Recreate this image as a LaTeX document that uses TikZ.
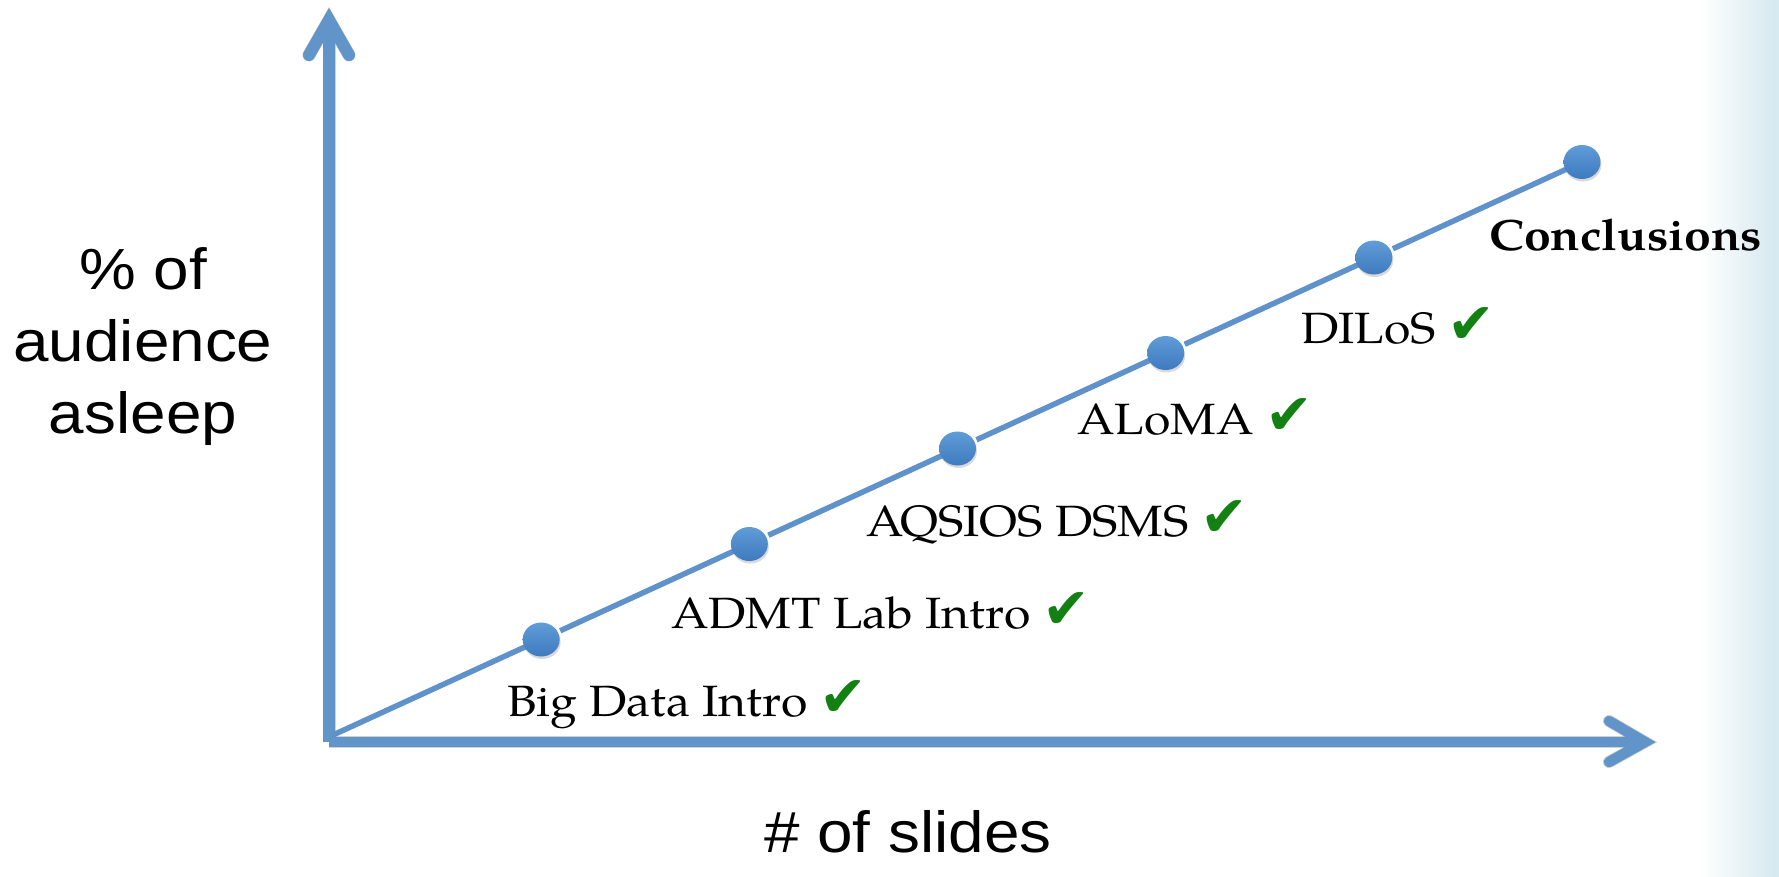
\documentclass[tikz,border=0pt]{standalone}
\usepackage{fontspec}
\usetikzlibrary{calc,shapes.geometric,shadows}
\newfontfamily\labelfont[FakeStretch=1.1]{TeX Gyre Pagella}
\newfontfamily\axisfont[FakeStretch=1.1]{Liberation Sans}
\newfontfamily\symfont{DejaVu Sans}
\definecolor{axisblue}{RGB}{97,149,201}
\definecolor{trendblue}{RGB}{95,146,202}
\definecolor{dottop}{RGB}{96,156,216}
\definecolor{dotbot}{RGB}{62,122,190}
\definecolor{okgreen}{RGB}{18,128,18}
\definecolor{bandblue}{RGB}{212,232,239}
\newcommand\okmark{{\symfont\fontsize{57}{60}\selectfont\color{okgreen}✔}}
\begin{document}
\begin{tikzpicture}[x=1pt,y=-1pt,
  axisline/.style={draw=axisblue},
  axisshadow/.style={draw=black, opacity=0.18},
  trend/.style={draw=trendblue, line width=5.5},
  dot/.style={ellipse, minimum width=37pt, minimum height=34pt, inner sep=0pt,
    top color=dottop, bottom color=dotbot,
    drop shadow={shadow xshift=1pt, shadow yshift=-2.5pt, opacity=0.3}},
  lbl/.style={anchor=base west, inner sep=0pt, font={\labelfont\fontsize{43.8}{50}\selectfont}},
  axlbl/.style={inner sep=0pt, font={\axisfont\fontsize{58}{72}\selectfont}}]
\useasboundingbox (0,0) rectangle (1779,876);

% pale band along the right edge
\shade[left color=white, right color=bandblue] (1700,0) rectangle (1779,876);

% axis end points
\coordinate (ybot) at (329,742);
\coordinate (ytip) at (329,20);
\coordinate (xleft) at (329,742);
\coordinate (xtip) at (1645,742);
\coordinate (yl) at (309,55);
\coordinate (yr) at (349,55);
\coordinate (xu) at (1609,721);
\coordinate (xd) at (1609,762);

% soft shadows under the axes
\begin{scope}[shift={(2,3)}]
  \draw[axisshadow, line width=13] (ybot) -- ($(ytip)+(0,2)$);
  \draw[axisshadow, line width=13, line cap=round, line join=miter] (yl) -- (ytip) -- (yr);
  \draw[axisshadow, line width=12] (xleft) -- ($(xtip)-(2,0)$);
  \draw[axisshadow, line width=12, line cap=round, line join=miter] (xu) -- (xtip) -- (xd);
\end{scope}

% axes
\draw[axisline, line width=12] (ybot) -- ($(ytip)+(0,2)$);
\draw[axisline, line width=12, line cap=round, line join=miter] (yl) -- (ytip) -- (yr);
\draw[axisline, line width=10.5] (xleft) -- ($(xtip)-(2,0)$);
\draw[axisline, line width=10.5, line cap=round, line join=miter] (xu) -- (xtip) -- (xd);

% rising line with its milestones
\coordinate (d0) at (333,735);
\coordinate (end) at (1582,162);
\foreach \k [evaluate=\k as \j using int(\k-1)] in {1,...,6}
  \draw[trend] (d\j) -- ($(d0)!\k/6!(end)$) node[dot] (d\k) {};

% milestone labels
\node[lbl] (l1) at (507,716) {Big Data Intro \okmark};
\node[lbl] (l2) at (671,628) {ADMT Lab Intro \okmark};
\node[lbl] (l3) at (866,536) {AQSIOS DSMS \okmark};
\node[lbl] (l4) at (1077,434) {ALoMA \okmark};
\node[lbl] (l5) at (1301,343) {DILoS \okmark};
\node[lbl] (l6) at (1489,250) {\bfseries Conclusions};

% axis titles
\node[axlbl, align=center, anchor=base] (ylab) at (143,433) {\% of\\audience\\asleep};
\node[axlbl, anchor=base west] (xlab) at (764,852) {\# of slides};
\end{tikzpicture}
\end{document}
